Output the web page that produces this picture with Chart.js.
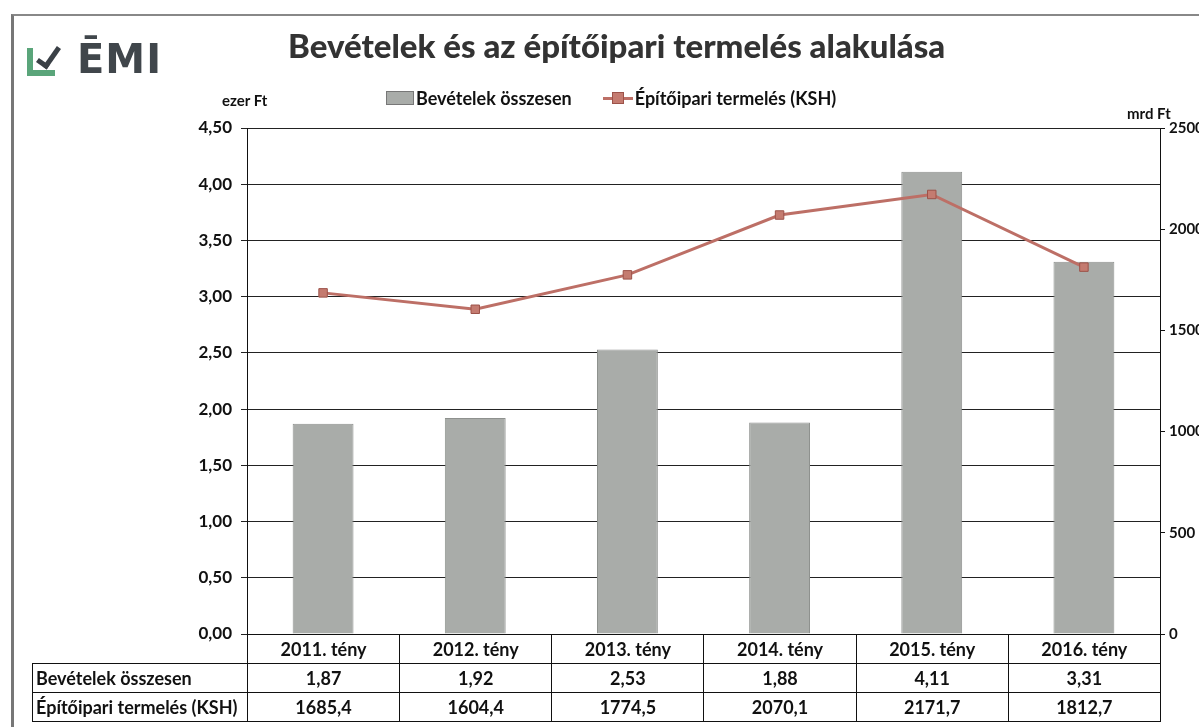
<!DOCTYPE html>
<html>
<head>
<meta charset="utf-8">
<script src="https://cdn.jsdelivr.net/npm/chart.js@4/dist/chart.umd.min.js"></script>
<style>
  html, body { margin: 0; padding: 0; background: #fff; }
  body { width: 1199px; height: 727px; position: relative; overflow: hidden; font-family: Lato, "Open Sans", sans-serif; color: #111; }
  #frame { position: absolute; left: 11px; top: 14px; right: -5px; bottom: -5px; border-left: 3px solid #777; border-top: 2px solid #888; }
  #chart { position: absolute; left: 0; top: 0; }
  #logo { position: absolute; left: 27px; top: 40px; height: 42px; }
  #logo .box { position: absolute; left: 0; top: 8px; width: 22px; height: 22px; border-left: 6px solid #5aa57a; border-bottom: 6px solid #5aa57a; }
  #logo .chk { position: absolute; left: 15px; top: 3px; width: 8px; height: 20px; border-right: 5px solid #3a4046; border-bottom: 5px solid #3a4046; transform: rotate(35deg); }
  #logo .txt { position: absolute; left: 50px; top: -4px; font: bold 40px "DejaVu Sans"; color: #40464b; letter-spacing: 1px; }
  #title { position: absolute; left: 288px; top: 25px; font: 900 33px Lato, sans-serif; color: #333; white-space: nowrap; }
  .unit { position: absolute; font: bold 15px Lato, sans-serif; }
  #legend { position: absolute; top: 85px; left: 386px; font: bold 18px Lato, sans-serif; white-space: nowrap; }
  #legend span { display: inline-block; vertical-align: middle; }
  .lg-bar { width: 26px; height: 12px; background: #a9aca9; border: 1px solid #777; margin-right: 2px; }
  .lg-line { position: relative; width: 30px; height: 12px; margin-left: 31px; margin-right: 2px; }
  .lg-line i { position: absolute; left: 0; right: 0; top: 5px; height: 3px; background: #bd6f66; }
  .lg-line b { position: absolute; left: 9px; top: 0px; width: 12px; height: 12px; background: #c47b70; border: 1px solid #9c5249; box-sizing: border-box; }
  #table { position: absolute; border-collapse: collapse; font: bold 18px Lato, sans-serif; }
  #table td { border: 1px solid #111; padding: 0; text-align: center; height: 28px; }
  #table td.lbl { text-align: left; padding-left: 3px; white-space: nowrap; }
  #table td.empty { border: none; }
</style>
</head>
<body>
<div id="frame"></div>
<canvas id="chart" width="1199" height="727"></canvas>
<div id="logo"><span class="box"></span><span class="chk"></span><span class="txt">ĒMI</span></div>
<div id="title">Bevételek és az építőipari termelés alakulása</div>
<div class="unit" style="left:222px;top:91px;">ezer Ft</div>
<div class="unit" style="left:1127px;top:104px;">mrd Ft</div>
<div id="legend"><span class="lg-bar"></span><span>Bevételek összesen</span><span class="lg-line"><i></i><b></b></span><span>Építőipari termelés (KSH)</span></div>
<table id="table"></table>
<script>
// chart data
const categories = ['2011. tény', '2012. tény', '2013. tény', '2014. tény', '2015. tény', '2016. tény'];
const revenue = [1.87, 1.92, 2.53, 1.88, 4.11, 3.31];
const construction = [1685.4, 1604.4, 1774.5, 2070.1, 2171.7, 1812.7];
const revenueLabel = 'Bevételek összesen';
const constructionLabel = 'Építőipari termelés (KSH)';

const fmt = (v, d) => v.toFixed(d).replace('.', ',');

const ctx = document.getElementById('chart').getContext('2d');
const chart = new Chart(ctx, {
    type: 'bar',
    data: {
        labels: categories,
        datasets: [
            {
                type: 'line',
                label: constructionLabel,
                data: construction,
                yAxisID: 'y1',
                borderColor: '#bd6f66',
                borderWidth: 3,
                pointStyle: 'rect',
                pointRadius: 6,
                pointBackgroundColor: '#c47b70',
                pointBorderColor: '#9c5249',
                pointBorderWidth: 1,
                tension: 0,
                order: 0
            },
            {
                label: revenueLabel,
                data: revenue,
                yAxisID: 'y',
                backgroundColor: '#a9aca9',
                borderColor: '#8e918e',
                borderWidth: 1,
                barPercentage: 0.4,
                categoryPercentage: 1,
                order: 1
            }
        ]
    },
    options: {
        responsive: false,
        animation: false,
        layout: { padding: { top: 128, bottom: 93, left: 0, right: 0 } },
        plugins: { legend: { display: false }, tooltip: { enabled: false } },
        scales: {
            x: { display: false },
            y: {
                position: 'left',
                min: 0,
                max: 4.5,
                ticks: {
                    stepSize: 0.5,
                    padding: 9,
                    color: '#111',
                    font: { family: 'Lato', size: 17, weight: 'bold' },
                    callback: v => fmt(v, 2)
                },
                grid: { color: '#222', lineWidth: 1, tickLength: 6 },
                border: { color: '#111', width: 1 },
                afterFit: s => { s.width = 247; }
            },
            y1: {
                position: 'right',
                min: 0,
                max: 2500,
                ticks: {
                    stepSize: 500,
                    padding: 4,
                    color: '#111',
                    font: { family: 'Lato', size: 15, weight: 'bold' },
                    callback: v => String(v)
                },
                grid: { drawOnChartArea: false, color: '#111', tickLength: 5 },
                border: { color: '#111', width: 1 },
                afterFit: s => { s.width = 39; }
            }
        }
    }
});

// data table under the plot, aligned to the category columns
const area = chart.chartArea;
const colW = (area.right - area.left) / categories.length;
const labelW = area.left - 32;
const table = document.getElementById('table');
table.style.left = '32px';
table.style.top = area.bottom + 'px';
let html = '<colgroup><col style="width:' + labelW + 'px">';
categories.forEach(() => { html += '<col style="width:' + colW + 'px">'; });
html += '</colgroup>';
html += '<tr><td class="empty"></td>' + categories.map(c => '<td>' + c + '</td>').join('') + '</tr>';
html += '<tr><td class="lbl">' + revenueLabel + '</td>' + revenue.map(v => '<td>' + fmt(v, 2) + '</td>').join('') + '</tr>';
html += '<tr><td class="lbl">' + constructionLabel + '</td>' + construction.map(v => '<td>' + fmt(v, 1) + '</td>').join('') + '</tr>';
table.innerHTML = html;
table.style.width = (labelW + colW * categories.length) + 'px';
table.style.tableLayout = 'fixed';
</script>
</body>
</html>
